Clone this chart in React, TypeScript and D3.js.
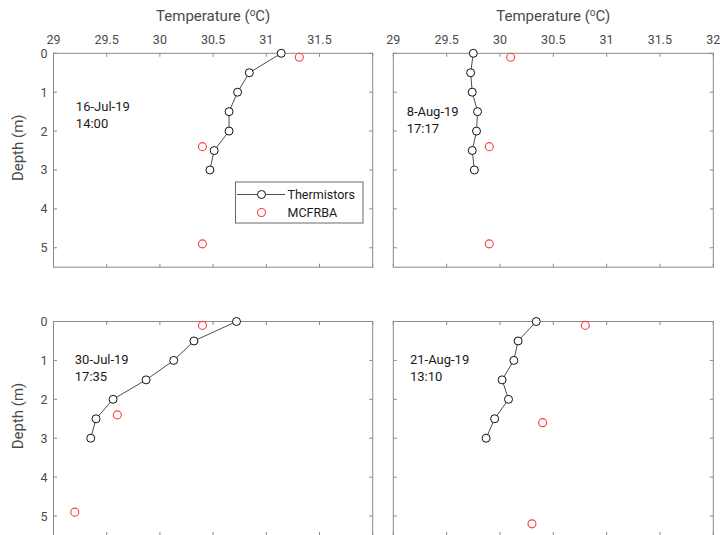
import React from 'react';
import * as d3 from 'd3';

// thermistor depths (m), shared by every profile
const depths = [0, 0.5, 1, 1.5, 2, 2.5, 3];

// thermistor temperatures (degC)
const thermJul16 = [31.14, 30.84, 30.73, 30.65, 30.65, 30.51, 30.47];
const thermAug8 = [29.75, 29.725, 29.74, 29.79, 29.78, 29.74, 29.76];
const thermJul30 = [30.72, 30.32, 30.13, 29.87, 29.56, 29.4, 29.35];
const thermAug21 = [30.34, 30.17, 30.13, 30.02, 30.08, 29.95, 29.87];

// MCFRBA retrievals: depth (m) and temperature (degC)
const mcfDepthJul16 = [0.1, 2.4, 4.9];
const mcfTempJul16 = [31.31, 30.4, 30.4];
const mcfDepthAug8 = [0.1, 2.4, 4.9];
const mcfTempAug8 = [30.1, 29.9, 29.9];
const mcfDepthJul30 = [0.1, 2.4, 4.9];
const mcfTempJul30 = [30.4, 29.6, 29.2];
const mcfDepthAug21 = [0.1, 2.6, 5.2];
const mcfTempAug21 = [30.8, 30.4, 30.3];

const xTicks = [29, 29.5, 30, 30.5, 31, 31.5, 32];
const yTicks = [0, 1, 2, 3, 4, 5];
const labels = [
  ['16-Jul-19', '14:00'],
  ['8-Aug-19', '17:17'],
  ['30-Jul-19', '17:35'],
  ['21-Aug-19', '13:10'],
];

const FONT = 'Roboto, "Noto Sans", sans-serif';
const AXIS = '#8a8a8a';
const TICKTXT = '#4a4a4a';
const RED = '#ff3c3c';

type Panel = {
  x0: number; x1: number; y0: number; y1: number;
  therm: number[]; mDepth: number[]; mTemp: number[];
  label: string[]; labelAt: [number, number];
  top: boolean; left: boolean; hideLast: boolean; title: string;
  legend?: boolean;
};

const panels: Panel[] = [
  { x0: 53.5, x1: 372.7, y0: 53.3, y1: 267.2, therm: thermJul16, mDepth: mcfDepthJul16, mTemp: mcfTempJul16,
    label: labels[0], labelAt: [29.21, 1.48], top: true, left: true, hideLast: true, title: 'Temperature  (', legend: true },
  { x0: 393.3, x1: 713.3, y0: 53.3, y1: 267.2, therm: thermAug8, mDepth: mcfDepthAug8, mTemp: mcfTempAug8,
    label: labels[1], labelAt: [29.125, 1.6], top: true, left: false, hideLast: false, title: 'Temperature (' },
  { x0: 53.5, x1: 372.7, y0: 321.5, y1: 535.5, therm: thermJul30, mDepth: mcfDepthJul30, mTemp: mcfTempJul30,
    label: labels[2], labelAt: [29.2, 1.1], top: false, left: true, hideLast: false, title: '' },
  { x0: 393.3, x1: 713.3, y0: 321.5, y1: 535.5, therm: thermAug21, mDepth: mcfDepthAug21, mTemp: mcfTempAug21,
    label: labels[3], labelAt: [29.156, 1.1], top: false, left: false, hideLast: false, title: '' },
];

function ProfilePanel({ p }: { p: Panel }) {
  const x = d3.scaleLinear().domain([29, 32]).range([p.x0, p.x1]);
  const y = d3.scaleLinear().domain([0, 5.5]).range([p.y0, p.y1]);
  const line = d3.line<number>().x(d => x(d)).y((d, i) => y(depths[i]));
  const tl = 3.5;
  const cx = (p.x0 + p.x1) / 2;
  return (
    <g>
      <rect x={p.x0} y={p.y0} width={p.x1 - p.x0} height={p.y1 - p.y0} fill="none" stroke={AXIS} strokeWidth={1} />
      {xTicks.map(t => (
        <g key={'x' + t}>
          <line x1={x(t)} x2={x(t)} y1={p.y0} y2={p.y0 + tl} stroke={AXIS} />
          <line x1={x(t)} x2={x(t)} y1={p.y1} y2={p.y1 - tl} stroke={AXIS} />
          {p.top && !(p.hideLast && t === 32) && (
            <text x={x(t)} y={p.y0 - 9.5} textAnchor="middle" fontSize={12.5} fill={TICKTXT}>{String(t)}</text>
          )}
        </g>
      ))}
      {yTicks.map(t => (
        <g key={'y' + t}>
          <line x1={p.x0} x2={p.x0 + tl} y1={y(t)} y2={y(t)} stroke={AXIS} />
          <line x1={p.x1} x2={p.x1 - tl} y1={y(t)} y2={y(t)} stroke={AXIS} />
          {p.left && (
            <text x={p.x0 - 6} y={y(t)} dy="0.36em" textAnchor="end" fontSize={12.5} fill={TICKTXT}>{String(t)}</text>
          )}
        </g>
      ))}
      {p.title && (
        <text x={cx} y={20.7} textAnchor="middle" fontSize={15} fill={TICKTXT}>
          {p.title}<tspan fontSize={10} dy={-5}>o</tspan><tspan dy={5}>C)</tspan>
        </text>
      )}
      {p.left && (
        <text transform={`translate(23,${p.y0 + 94.5}) rotate(-90)`} textAnchor="middle" fontSize={15} fill={TICKTXT}>Depth (m)</text>
      )}
      <path d={line(p.therm) ?? ''} fill="none" stroke="#3a3a3a" strokeWidth={0.9} />
      {p.therm.map((t, i) => (
        <circle key={'t' + i} cx={x(t)} cy={y(depths[i])} r={4} fill="white" stroke="#111" strokeWidth={1} />
      ))}
      {p.mTemp.map((t, i) => (
        <circle key={'m' + i} cx={x(t)} cy={y(p.mDepth[i])} r={4} fill="none" stroke={RED} strokeWidth={1.1} />
      ))}
      <text x={x(p.labelAt[0])} y={y(p.labelAt[1])} fontSize={13} fill="#1a1a1a">
        <tspan x={x(p.labelAt[0])}>{p.label[0]}</tspan>
        <tspan x={x(p.labelAt[0])} dy={17}>{p.label[1]}</tspan>
      </text>
      {p.legend && (
        <g>
          <rect x={235.5} y={182} width={127.5} height={41} fill="white" stroke="#6a6a6a" strokeWidth={1} />
          <line x1={237} x2={285} y1={194.5} y2={194.5} stroke="#3a3a3a" strokeWidth={0.9} />
          <circle cx={261.5} cy={194.5} r={4} fill="white" stroke="#111" />
          <circle cx={261.5} cy={212.5} r={4} fill="none" stroke={RED} strokeWidth={1.1} />
          <text x={287.5} y={194.5} dy="0.36em" fontSize={12.5} fill="#1a1a1a">Thermistors</text>
          <text x={287.5} y={212.5} dy="0.36em" fontSize={12.5} fill="#1a1a1a">MCFRBA</text>
        </g>
      )}
    </g>
  );
}

export default function App() {
  return (
    <svg width={723} height={535} style={{ position: 'absolute', left: 0, top: 0, background: 'white' }} fontFamily={FONT}>
      <rect width={723} height={535} fill="white" />
      {panels.map((p, i) => <ProfilePanel key={i} p={p} />)}
    </svg>
  );
}
